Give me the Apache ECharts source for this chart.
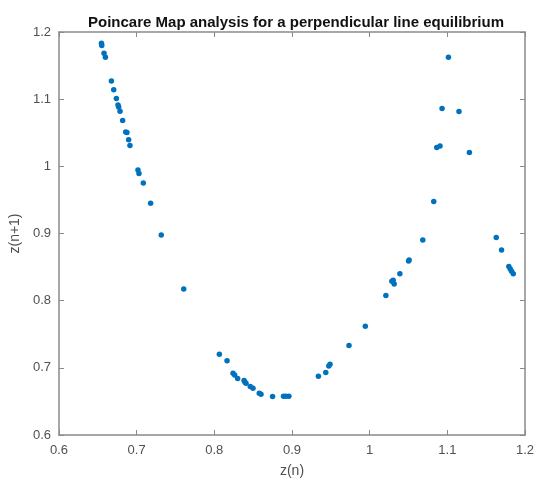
<!DOCTYPE html>
<html>
<head>
<meta charset="utf-8">
<script src="https://cdn.jsdelivr.net/npm/echarts@6/dist/echarts.min.js"></script>
<style>
  html, body { margin: 0; padding: 0; background: #fff; }
  #chart { width: 539px; height: 484px; }
</style>
</head>
<body>
<div id="chart"></div>
<script>
// Successive crossings of the section: z(n) and z(n+1)
const zN = [
  0.6547, 0.6551, 0.6580, 0.6598, 0.6675, 0.6705, 0.6739, 0.6760, 0.6769, 0.6786,
  0.6820, 0.6859, 0.6875, 0.6897, 0.6914, 0.7017, 0.7030, 0.7086, 0.7180, 0.7317,
  0.7606,
  0.8065, 0.8164, 0.8241, 0.8262, 0.8300, 0.8383, 0.8395, 0.8408, 0.8463, 0.8498,
  0.8579, 0.8601, 0.8750, 0.8891, 0.8922, 0.8960,
  0.9340, 0.9435, 0.9474, 0.9490, 0.9734,
  0.9944, 1.0209, 1.0286, 1.0303, 1.0316, 1.0389, 1.0501, 1.0508, 1.0684, 1.0825,
  1.0864, 1.0906, 1.0932, 1.1014, 1.1150, 1.1284,
  1.1630, 1.1698, 1.1792, 1.1810, 1.1827, 1.1849
];
const zN1 = [
  1.1833, 1.1798, 1.1684, 1.1625, 1.1272, 1.1142, 1.1009, 1.0915, 1.0885, 1.0821,
  1.0681, 1.0513, 1.0502, 1.0394, 1.0309, 0.9947, 0.9892, 0.9753, 0.9451, 0.8979,
  0.8173,
  0.7203, 0.7104, 0.6920, 0.6895, 0.6840, 0.6810, 0.6786, 0.6771, 0.6721, 0.6697,
  0.6623, 0.6608, 0.6572, 0.6578, 0.6578, 0.6578,
  0.6876, 0.6929, 0.7029, 0.7054, 0.7331,
  0.7620, 0.8076, 0.8290, 0.8305, 0.8250, 0.8399, 0.8592, 0.8607, 0.8905, 0.9475,
  1.0279, 1.0304, 1.0860, 1.1625, 1.0815, 1.0205,
  0.8939, 0.8756, 0.8507, 0.8473, 0.8439, 0.8399
];
const xTicks = [0.6, 0.7, 0.8, 0.9, 1, 1.1, 1.2];
const yTicks = [0.6, 0.7, 0.8, 0.9, 1, 1.1, 1.2];

const points = zN.map((x, i) => [x, zN1[i]]);

const FONT = '"Liberation Sans", Arial, sans-serif';
const lineColor = '#8a8a8a';
const textColor = '#505050';

function fmt(v) {
  return String(Math.round(v * 10) / 10);
}

const axisBase = {
  min: xTicks[0],
  max: xTicks[xTicks.length - 1],
  interval: 0.1,
  axisLine: { show: true, onZero: false, lineStyle: { color: lineColor, width: 1.5 } },
  axisTick: { show: true, inside: true, length: 5, lineStyle: { color: lineColor, width: 1 } },
  splitLine: { show: false }
};

const chart = echarts.init(document.getElementById('chart'), null, { renderer: 'canvas' });
chart.setOption({
  animation: false,
  backgroundColor: '#ffffff',
  title: {
    text: 'Poincare Map analysis for a perpendicular line equilibrium',
    left: 291, top: 10, textAlign: 'center',
    textStyle: { fontFamily: FONT, fontSize: 15, fontWeight: 'bold', color: '#111' }
  },
  grid: { left: 58, right: 14, top: 32, bottom: 49, containLabel: false },
  xAxis: [
    Object.assign({}, axisBase, {
      type: 'value', position: 'bottom',
      name: 'z(n)', nameLocation: 'middle', nameGap: 29,
      nameTextStyle: { fontFamily: FONT, fontSize: 14, color: textColor },
      axisLabel: { fontFamily: FONT, fontSize: 13, color: textColor, margin: 9, formatter: fmt }
    }),
    Object.assign({}, axisBase, {
      type: 'value', position: 'top', axisLabel: { show: false }
    })
  ],
  yAxis: [
    Object.assign({}, axisBase, {
      type: 'value', position: 'left',
      min: yTicks[0], max: yTicks[yTicks.length - 1],
      name: 'z(n+1)', nameLocation: 'middle', nameGap: 33,
      nameTextStyle: { fontFamily: FONT, fontSize: 14, color: textColor },
      axisLabel: { fontFamily: FONT, fontSize: 13, color: textColor, margin: 8, formatter: fmt }
    }),
    Object.assign({}, axisBase, {
      type: 'value', position: 'right',
      min: yTicks[0], max: yTicks[yTicks.length - 1],
      axisLabel: { show: false }
    })
  ],
  series: [{
    type: 'scatter',
    xAxisIndex: 0, yAxisIndex: 0,
    data: points,
    symbol: 'circle',
    symbolSize: 5.5,
    itemStyle: { color: '#0072BD', opacity: 1 }
  }]
});
</script>
</body>
</html>
